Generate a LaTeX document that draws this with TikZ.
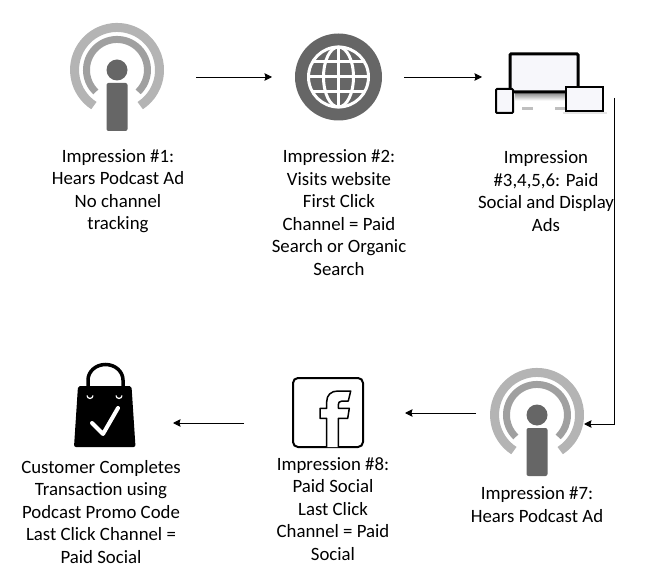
\documentclass[tikz,border=0pt]{standalone}
\usepackage{fontspec}
\setmainfont{Carlito}
\usetikzlibrary{arrows.meta}
\usetikzlibrary{positioning}

\definecolor{podDark}{HTML}{666666}
\definecolor{podLight}{HTML}{B4B4B4}
\definecolor{podMid}{HTML}{A0A0A0}
\definecolor{screenFill}{HTML}{F7F7FB}

\tikzset{
  iconbox/.style={minimum width=#1, minimum height=42pt, inner sep=0pt, outer sep=0pt},
  caption/.style={align=center, font=\fontsize{18.8pt}{22.5pt}\selectfont, inner sep=0pt, text=black},
  flow/.style={-{Stealth[length=7.5pt,width=7.5pt,inset=1pt]}, line width=0.9pt},
  podcast/.pic={
    \draw[podLight, line width=9pt] (-23.1,35.6) arc[start angle=123, end angle=417, radius=42.5];
    \draw[podMid, line width=7pt] (-21.2,21.9) arc[start angle=134, end angle=406, radius=30.5];
    \fill[podDark] (0,0) circle (10.5);
    \fill[podDark, rounded corners=2pt] (-10.5,13) rectangle (10.5,61);
  }
}

\begin{document}
\begin{tikzpicture}[x=1pt, y=-1pt]
  \useasboundingbox (0,0) rectangle (661,585);

  % top row
  \node[iconbox=158pt] (podOne) at (117,77) {};
  \node[iconbox=132pt] (globe) at (338,77) {};
  \node[iconbox=132pt] (devices) at (548,77) {};

  % bottom row
  \node[iconbox=108pt] (podTwo) at (530,413) {};
  \node[iconbox=161pt] (fbook) at (324.5,413) {};
  \node[iconbox=137pt] (bag) at (104.5,423) {};

  \pic at (117,70) {podcast};
  \pic at (537,415) {podcast};

  % globe
  \fill[podDark] (338.5,77) circle (43.5);
  \begin{scope}[white, line width=3pt]
    \draw (338.5,77) circle (30);
    \draw (338.5,77) ellipse (15 and 30);
    \draw (338.5,47) -- (338.5,107);
    \draw (308.5,77) -- (368.5,77);
    \draw (313,62) -- (364,62);
    \draw (313,92) -- (364,92);
  \end{scope}

  % devices
  \foreach \i in {0,...,7}
    \fill[black, opacity=0.45-0.06*\i] (515,93+\i) rectangle (565,94+\i);
  \fill[black!25] (522,107) rectangle (533,110);
  \fill[black!25] (555,107) rectangle (565,110);
  \fill[black!10] (563,112) rectangle (607,114);
  \draw[line width=3pt, fill=screenFill, rounded corners=1pt] (510,54) rectangle (578,92);
  \draw[line width=2pt, fill=screenFill, rounded corners=1pt] (496,89) rectangle (513,113);
  \draw[line width=2pt, fill=screenFill] (566,87) rectangle (603,111);

  % bag
  \draw[line width=3.5pt] (88,388) -- (88,380) arc[start angle=180, end angle=360, x radius=17.5, y radius=15.5] -- (123,388);
  \fill[rounded corners=2pt] (78,386) -- (131.5,386) -- (135.5,447) -- (74,447) -- cycle;
  \draw[white, line width=1.2pt] (87,395.5) arc[start angle=180, end angle=0, radius=3];
  \draw[white, line width=1.2pt] (116,395.5) arc[start angle=180, end angle=0, radius=3];
  \draw[white, line width=4pt, line cap=round, line join=round] (92,423) -- (103,434) -- (118,408);

  % facebook
  \draw[line width=2pt, rounded corners=5pt] (293,378) rectangle (363,447);
  \draw[line width=1.5pt, fill=white, line join=round] (326.7,447) -- (326.7,418.3) -- (320,418.3) -- (320,408.3)
    -- (326.7,408.3) -- (326.7,401.7) .. controls (326.7,395) and (331,391) .. (338,391)
    -- (350.7,391) -- (348.3,401) -- (342,401) .. controls (339,401) and (338.3,403) .. (338.3,405)
    -- (338.3,408.3) -- (349.3,408.3) -- (347.7,418.3) -- (338.3,418.3) -- (338.3,447);

  % arrows
  \draw[flow] (podOne) -- (globe);
  \draw[flow] (globe) -- (devices);
  \draw[flow] (devices.south east) |- ([yshift=-11pt]podTwo.east);
  \draw[flow] (podTwo) -- (fbook);
  \draw[flow] (fbook.west |- bag) -- (bag);

  % text
  \node[caption] (txtOne) at (118,191) {Impression \#1:\\Hears Podcast Ad\\No channel\\tracking};
  \node[caption] (txtTwo) at (339,212.5) {Impression \#2:\\Visits website\\First Click\\Channel = Paid\\Search or Organic\\Search};
  \node[caption] (txtThree) at (546,191) {Impression\\\#3,4,5,6: Paid\\Social and Display\\Ads};
  \node[caption] (txtFour) at (101,512) {Customer Completes\\Transaction using\\Podcast Promo Code\\Last Click Channel =\\Paid Social};
  \node[caption] (txtFive) at (333,509) {Impression \#8:\\Paid Social\\Last Click\\Channel = Paid\\Social};
  \node[caption] (txtSix) at (537,504.5) {Impression \#7:\\Hears Podcast Ad};
\end{tikzpicture}
\end{document}
